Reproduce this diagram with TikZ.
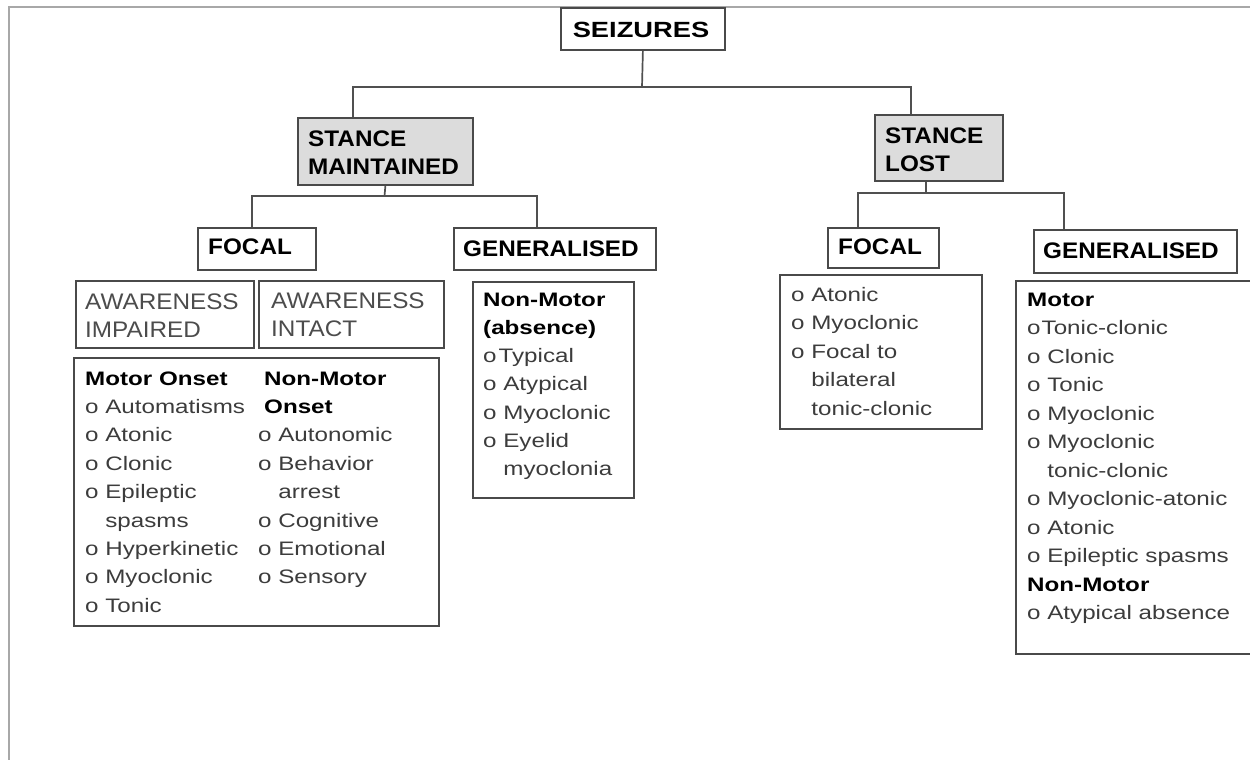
\documentclass[tikz,border=0pt]{standalone}
\usepackage{fontspec}
\setmainfont{Liberation Sans}
\newfontfamily\bodyfont{Liberation Sans}[FakeStretch=1.24]
\newfontfamily\headfont{Liberation Sans}[FakeStretch=1.08]
\definecolor{boxgray}{HTML}{4A4A4A}
\definecolor{linegray}{HTML}{505050}
\definecolor{framegray}{HTML}{A8A8A8}
\definecolor{stancefill}{HTML}{DCDCDC}
\definecolor{itemgray}{HTML}{3C3C3C}
\definecolor{awgray}{HTML}{4C4C4C}
\newcommand\boldblk[1]{\textbf{\color{black}#1}}
\begin{document}
\begin{tikzpicture}[x=1pt,y=-1pt,
  box/.style={draw=boxgray, line width=1.8pt, rectangle, inner sep=0pt, anchor=north west},
  stance/.style={box, fill=stancefill},
  conn/.style={draw=linegray, line width=1.7pt},
  head/.style={anchor=base west, inner sep=0pt, font=\headfont\bfseries\fontsize{22.5}{28}\selectfont, text=black},
  aw/.style={anchor=base west, inner sep=0pt, font=\headfont\fontsize{22.5}{28}\selectfont, text=awgray},
  item/.style={anchor=base west, inner sep=0pt, font=\bodyfont\fontsize{19.5}{28.5}\selectfont, text=itemgray},
]
\clip (0,0) rectangle (1250,760);
\fill[white] (0,0) rectangle (1250,760);
% frame
\draw[framegray, line width=2.4pt] (1252,7) -- (9,7) -- (9,762);

% boxes
\node[box, minimum width=164pt, minimum height=42pt] (seiz) at (560,7) {};
\node[stance, minimum width=175pt, minimum height=67pt] (sm) at (297,117) {};
\node[stance, minimum width=128pt, minimum height=66pt] (sl) at (874,114) {};
\node[box, minimum width=118pt, minimum height=42pt] (f1) at (197,227) {};
\node[box, minimum width=202pt, minimum height=42pt] (g1) at (453,227) {};
\node[box, minimum width=178pt, minimum height=67pt] (ai) at (75,280) {};
\node[box, minimum width=185pt, minimum height=67pt] (ain) at (258,280) {};
\node[box, minimum width=365pt, minimum height=268pt] (mo) at (73,357) {};
\node[box, minimum width=161pt, minimum height=216pt] (nm) at (472,281) {};
\node[box, minimum width=111pt, minimum height=40pt] (f2) at (827,227) {};
\node[box, minimum width=203pt, minimum height=43pt] (g2) at (1033,229) {};
\node[box, minimum width=202pt, minimum height=154pt] (fl) at (779,274) {};
\node[box, minimum width=250pt, minimum height=373pt] (gl) at (1015,280) {};

% connectors
\coordinate (j1) at (642,87);
\coordinate (smin) at (353,117);
\coordinate (slin) at (911,114);
\draw[conn] (seiz.south) -- (j1);
\draw[conn] (smin) |- (j1) -| (slin);

\coordinate (j2) at (384.5,196);
\coordinate (f1in) at (252,227);
\coordinate (g1in) at (537,227);
\draw[conn] (sm.south) -- (j2);
\draw[conn] (f1in) |- (j2) -| (g1in);

\coordinate (j3) at (926,193);
\coordinate (f2in) at (858,227);
\coordinate (g2in) at (1064,229);
\draw[conn] (sl.south -| j3) -- (j3);
\draw[conn] (f2in) |- (j3) -| (g2in);

% headings
\node[anchor=base, inner sep=0pt, font=\bodyfont\bfseries\fontsize{22}{26}\selectfont] (tseiz) at (641,37.5) {SEIZURES};
\node[head] (tsm1) at (308,146) {STANCE};
\node[head] (tsm2) at (308,174) {MAINTAINED};
\node[head] (tsl1) at (885,143) {STANCE};
\node[head] (tsl2) at (885,171) {LOST};
\node[head] (tf1) at (208,254) {FOCAL};
\node[head] (tg1) at (463,256) {GENERALISED};
\node[head] (tf2) at (838,254) {FOCAL};
\node[head] (tg2) at (1043,258) {GENERALISED};
\node[aw] (tai1) at (85,309) {AWARENESS};
\node[aw] (tai2) at (85,337) {IMPAIRED};
\node[aw] (tain1) at (271,308) {AWARENESS};
\node[aw] (tain2) at (271,336) {INTACT};

% focal motor / non-motor onset
\foreach \t [count=\i from 0] in {{\boldblk{Motor Onset}}, o Automatisms, o Atonic, o Clonic, o Epileptic, {\phantom{o }spasms}, o Hyperkinetic, o Myoclonic, o Tonic}
  \node[item] (mo\i) at (85,385+28.4*\i) {\t};
\foreach \t [count=\i from 0] in {{\hspace{6pt}\boldblk{Non-Motor}}, {\hspace{6pt}\boldblk{Onset}}, o Autonomic, o Behavior, {\phantom{o }arrest}, o Cognitive, o Emotional, o Sensory}
  \node[item] (nmo\i) at (258,385+28.4*\i) {\t};

% generalised non-motor (absence)
\foreach \t [count=\i from 0] in {{\boldblk{Non-Motor}}, {\boldblk{(absence)}}, {o\kern2pt Typical}, o Atypical, o Myoclonic, o Eyelid, {\phantom{o }myoclonia}}
  \node[item] (nma\i) at (483,306+28.3*\i) {\t};

% stance lost focal
\foreach \t [count=\i from 0] in {o Atonic, o Myoclonic, o Focal to, {\phantom{o }bilateral}, {\phantom{o }tonic-clonic}}
  \node[item] (flo\i) at (791,301+28.5*\i) {\t};

% stance lost generalised
\foreach \t [count=\i from 0] in {{\boldblk{Motor}}, {o\kern1pt Tonic-clonic}, o Clonic, o Tonic, o Myoclonic, o Myoclonic, {\phantom{o }tonic-clonic}, o Myoclonic-atonic, o Atonic, o Epileptic spasms, {\boldblk{Non-Motor}}, o Atypical absence}
  \node[item] (gle\i) at (1027,306+28.5*\i) {\t};
\end{tikzpicture}
\end{document}
